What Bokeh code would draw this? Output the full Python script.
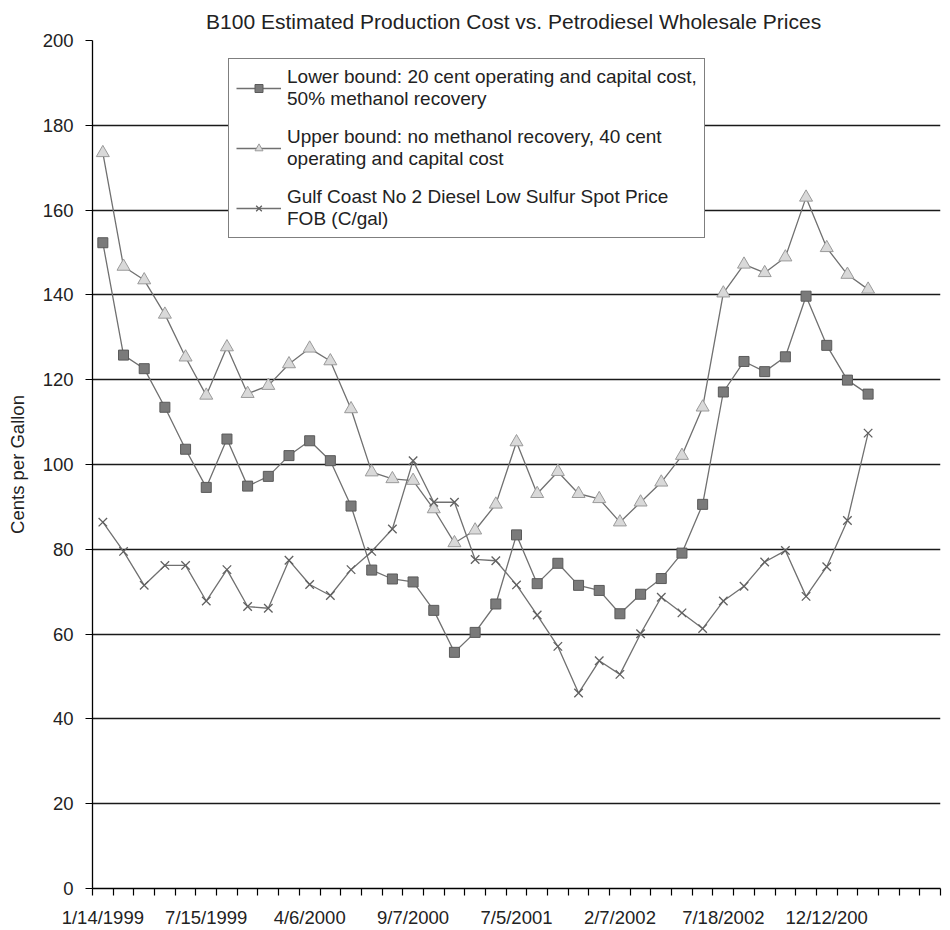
from bokeh.plotting import figure
from bokeh.models import Range1d, FixedTicker, Legend, LegendItem
from bokeh.embed import file_html
from bokeh.resources import INLINE

# ---- data ----
tick_dates = ["1/14/1999", "7/15/1999", "4/6/2000", "9/7/2000",
              "7/5/2001", "2/7/2002", "7/18/2002", "12/12/200"]
tick_positions = [0, 5, 10, 15, 20, 25, 30, 35]
n_categories = 41

lower_bound = [152.3, 125.8, 122.6, 113.5, 103.6, 94.6, 106.0, 94.9, 97.2, 102.1,
               105.6, 100.9, 90.2, 75.1, 73.0, 72.3, 65.6, 55.7, 60.4, 67.1,
               83.4, 71.9, 76.7, 71.5, 70.3, 64.8, 69.4, 73.1, 79.1, 90.6,
               117.1, 124.3, 121.9, 125.4, 139.7, 128.1, 119.9, 116.6]
upper_bound = [173.5, 146.7, 143.5, 135.4, 125.3, 116.3, 127.7, 116.7, 118.6, 123.7,
               127.4, 124.4, 113.1, 98.2, 96.6, 96.2, 89.5, 81.5, 84.5, 90.6,
               105.3, 93.1, 98.3, 93.1, 91.9, 86.4, 91.1, 95.8, 102.1, 113.5,
               140.4, 147.2, 145.2, 148.9, 163.0, 151.1, 144.8, 141.3]
gulf_coast = [86.4, 79.5, 71.5, 76.2, 76.2, 67.8, 75.2, 66.5, 66.1, 77.4,
              71.7, 69.1, 75.2, 79.5, 84.8, 100.9, 91.1, 91.1, 77.6, 77.3,
              71.6, 64.5, 57.1, 46.1, 53.7, 50.5, 60.1, 68.7, 65.0, 61.3,
              67.8, 71.3, 77.0, 79.7, 68.9, 75.9, 86.8, 107.4]
x_idx = list(range(len(lower_bound)))

label_lower = "Lower bound: 20 cent operating and capital cost,\n50% methanol recovery"
label_upper = "Upper bound: no methanol recovery, 40 cent\noperating and capital cost"
label_gulf = "Gulf Coast No 2 Diesel Low Sulfur Spot Price\nFOB (C/gal)"

FONT = "Liberation Sans"
TXT = "#222222"

p = figure(width=942, height=930, output_backend="svg", toolbar_location=None,
           x_range=Range1d(-0.5, n_categories - 0.5), y_range=Range1d(0, 200),
           min_border_left=92, min_border_right=2, min_border_top=40,
           min_border_bottom=42, title="B100 Estimated Production Cost  vs. Petrodiesel Wholesale Prices")
p.outline_line_color = None
p.background_fill_color = "white"
p.border_fill_color = "white"

p.title.align = "center"
p.title.text_font = FONT
p.title.text_font_size = "21px"
p.title.text_font_style = "normal"
p.title.text_color = TXT
p.title.standoff = 15

# x axis
p.xaxis.ticker = FixedTicker(ticks=tick_positions,
                             minor_ticks=[i - 0.5 for i in range(n_categories + 1)])
p.xaxis.major_label_overrides = {t: s for t, s in zip(tick_positions, tick_dates)}
p.xaxis.major_tick_out = 0
p.xaxis.major_tick_in = 0
p.xaxis.minor_tick_out = 7
p.xaxis.minor_tick_in = 0
p.xaxis.minor_tick_line_color = "black"
p.xaxis.minor_tick_line_width = 1.2
p.xaxis.axis_line_color = "black"
p.xaxis.axis_line_width = 1.3
p.xaxis.major_label_standoff = 11
p.xaxis.major_label_text_font = FONT
p.xaxis.major_label_text_font_size = "18.5px"
p.xaxis.major_label_text_color = TXT
p.xgrid.visible = False

# y axis
p.yaxis.ticker = FixedTicker(ticks=list(range(0, 201, 20)))
p.yaxis.major_tick_out = 7
p.yaxis.major_tick_in = 0
p.yaxis.minor_tick_out = 0
p.yaxis.minor_tick_in = 0
p.yaxis.major_tick_line_color = "black"
p.yaxis.major_tick_line_width = 1.2
p.yaxis.axis_line_color = "black"
p.yaxis.axis_line_width = 1.3
p.yaxis.major_label_standoff = 12
p.yaxis.major_label_text_font = FONT
p.yaxis.major_label_text_font_size = "18.5px"
p.yaxis.major_label_text_color = TXT
p.yaxis.axis_label = "Cents per Gallon"
p.yaxis.axis_label_text_font = FONT
p.yaxis.axis_label_text_font_size = "18.5px"
p.yaxis.axis_label_text_font_style = "normal"
p.yaxis.axis_label_text_color = TXT
p.yaxis.axis_label_standoff = 12
p.ygrid.grid_line_color = "#1a1a1a"
p.ygrid.grid_line_width = 1.3

LINE = "#707070"
l1 = p.line(x_idx, lower_bound, line_color=LINE, line_width=1.3)
s1 = p.scatter(x_idx, lower_bound, marker="square", size=10,
               fill_color="#7a7a7a", line_color="#5a5a5a", line_width=1)
l2 = p.line(x_idx, upper_bound, line_color=LINE, line_width=1.3)
s2 = p.scatter(x_idx, upper_bound, marker="triangle", size=13,
               fill_color="#d9d9d9", line_color="#9a9a9a", line_width=1)
l3 = p.line(x_idx, gulf_coast, line_color=LINE, line_width=1.3)
s3 = p.scatter(x_idx, gulf_coast, marker="x", size=12,
               line_color="#606060", line_width=1.3)

legend = Legend(items=[LegendItem(label=label_lower, renderers=[l1, s1]),
                       LegendItem(label=label_upper, renderers=[l2, s2]),
                       LegendItem(label=label_gulf, renderers=[l3, s3])],
                location=(136, 650))
legend.border_line_color = "black"
legend.border_line_width = 1.3
legend.background_fill_color = "white"
legend.background_fill_alpha = 1.0
legend.label_text_font = FONT
legend.label_text_font_size = "19px"
legend.label_text_color = TXT
legend.label_text_line_height = 1.15
legend.glyph_width = 45
legend.label_standoff = 6
legend.padding = 7
legend.spacing = 16
legend.margin = 0
p.add_layout(legend, "center")

open("out.html", "w").write(file_html(p, INLINE))
